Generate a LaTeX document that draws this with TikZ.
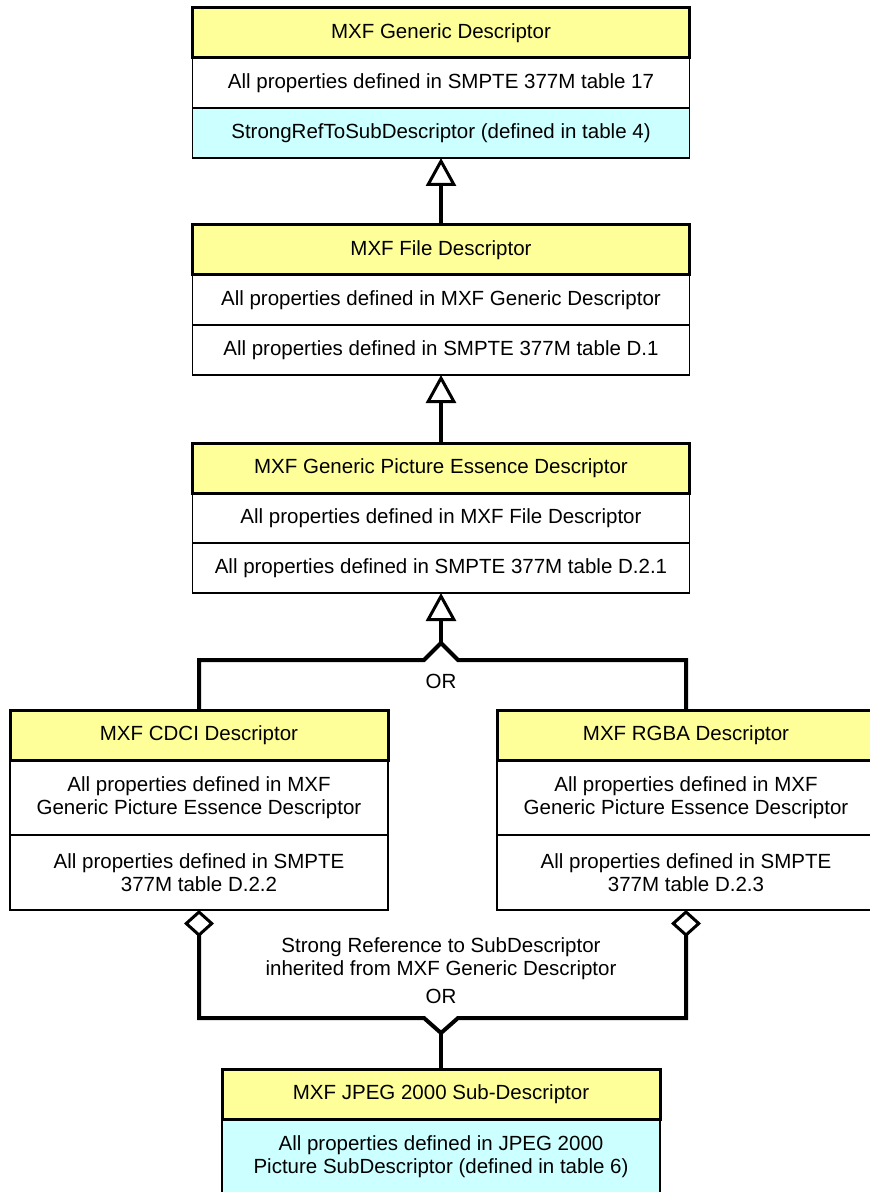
\documentclass[tikz,border=0pt]{standalone}
\usepackage{fontspec}
\setmainfont{Liberation Sans}
\usetikzlibrary{positioning, arrows.meta}
\definecolor{hdryellow}{HTML}{FFFF99}
\definecolor{refcyan}{HTML}{CCFFFF}

\begin{document}
\begin{tikzpicture}[
  x=0.5pt, y=-0.5pt,
  every node/.style = {font=\fontsize{10.25pt}{11.5pt}\selectfont, align=center, outer sep=0pt, inner sep=0pt},
  hdr/.style = {fill=hdryellow, minimum height=25pt},
  prop/.style = {draw, line width=0.6pt, fill=white, minimum height=25pt},
  tall/.style = {minimum height=37.5pt},
  wide/.style = {minimum width=248.5pt},
  side/.style = {minimum width=189pt},
  sub/.style = {minimum width=219pt},
  ref/.style = {fill=refcyan},
  link/.style = {line width=2pt},
  inh/.style = {link, -{Triangle[open, length=14pt, width=15pt, line width=1.5pt]}},
  agg/.style = {link, {Diamond[open, length=13.5pt, width=15pt, line width=1.5pt]}-{Diamond[open, length=13.5pt, width=15pt, line width=1.5pt]}}
    ]
  \useasboundingbox[fill=white] (0,0) rectangle (870,1192);

  % generic descriptor
  \node[hdr, wide] (gen) at (441,33) {MXF Generic Descriptor};
  \node[prop, wide, below=0pt of gen] (gen-a) {All properties defined in SMPTE 377M table 17};
  \node[prop, wide, ref, below=0pt of gen-a] (gen-b) {StrongRefToSubDescriptor (defined in table 4)};

  % file descriptor
  \node[hdr, wide] (file) at (441,250) {MXF File Descriptor};
  \node[prop, wide, below=0pt of file] (file-a) {All properties defined in MXF Generic Descriptor};
  \node[prop, wide, below=0pt of file-a] (file-b) {All properties defined in SMPTE 377M table D.1};

  % picture essence descriptor
  \node[hdr, wide] (pic) at (441,468) {MXF Generic Picture Essence Descriptor};
  \node[prop, wide, below=0pt of pic] (pic-a) {All properties defined in MXF File Descriptor};
  \node[prop, wide, below=0pt of pic-a] (pic-b) {All properties defined in SMPTE 377M table D.2.1};

  % CDCI and RGBA
  \node[hdr, side] (cdci) at (199,735) {MXF CDCI Descriptor};
  \node[prop, side, tall, below=0pt of cdci] (cdci-a) {All properties defined in MXF\\Generic Picture Essence Descriptor};
  \node[prop, side, tall, below=0pt of cdci-a] (cdci-b) {All properties defined in SMPTE\\377M table D.2.2};

  \node[hdr, side] (rgba) at (686,735) {MXF RGBA Descriptor};
  \node[prop, side, tall, below=0pt of rgba] (rgba-a) {All properties defined in MXF\\Generic Picture Essence Descriptor};
  \node[prop, side, tall, below=0pt of rgba-a] (rgba-b) {All properties defined in SMPTE\\377M table D.2.3};

  % JPEG 2000 sub-descriptor
  \node[hdr, sub] (jp) at (441,1094) {MXF JPEG 2000 Sub-Descriptor};
  \node[prop, sub, tall, ref, below=0pt of jp] (jp-a) {All properties defined in JPEG 2000\\Picture SubDescriptor (defined in table 6)};

  % header frames
  \foreach \n in {gen, file, pic, cdci, rgba, jp}
    \draw[line width=1.5pt] (\n.north west) rectangle (\n.south east);

  % inheritance
  \draw[inh] (file.north) -- (gen-b.south);
  \draw[inh] (pic.north) -- (file-b.south);

  \coordinate (up-or) at (441,643);
  \draw[inh] (up-or) -- (pic-b.south);
  \draw[link] (cdci.north) |- (424,660) -- (up-or) -- (458,660) -| (rgba.north);
  \node (up-or-lbl) at (441,681) {OR};

  % strong reference
  \coordinate (low-or) at (441,1033);
  \draw[agg] (cdci-b.south) |- (424,1018) -- (low-or) -- (458,1018) -| (rgba-b.south);
  \draw[link] (low-or) -- (jp.north);
  \node (ref-lbl) at (441,959) {Strong Reference to SubDescriptor\\inherited from MXF Generic Descriptor};
  \node (low-or-lbl) at (441,996) {OR};
\end{tikzpicture}
\end{document}
